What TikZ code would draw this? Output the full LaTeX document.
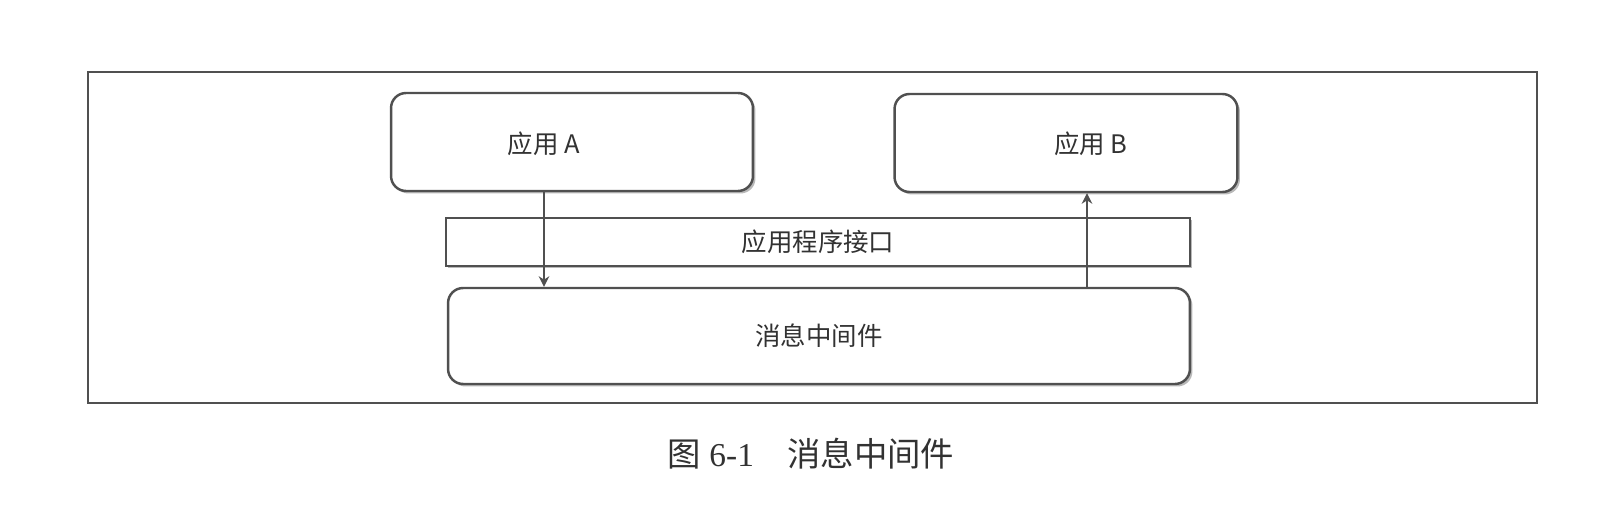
\documentclass[tikz,border=0pt]{standalone}
\usepackage{fontspec}
\setmainfont{Liberation Serif}
\newfontfamily\cjk{Noto Sans CJK SC}
\definecolor{mwline}{RGB}{80,80,80}
\definecolor{mwshadow}{RGB}{185,185,185}
\definecolor{mwtext}{RGB}{50,50,50}
\usetikzlibrary{arrows.meta,positioning,shadows}

\begin{document}
\begin{tikzpicture}[x=0.02cm, y=-0.02cm,
    appbox/.style={rectangle, rounded corners=0.3cm, draw=mwline, line width=1.4pt,
                   fill=white, drop shadow={shadow xshift=0.05cm, shadow yshift=-0.05cm,
                   fill=mwshadow, opacity=1}},
    apibox/.style={rectangle, draw=mwline, line width=1.4pt, fill=white,
                   minimum width=14.88cm, minimum height=0.96cm,
                   drop shadow={shadow xshift=0.04cm, shadow yshift=-0.04cm,
                   fill=mwshadow, opacity=1}},
    lbl/.style={font=\cjk\fontsize{14.5pt}{16pt}\selectfont, text=mwtext},
    arr/.style={-{Stealth[length=6pt, width=6pt]}, line width=1.4pt, mwline}
  ]
    \useasboundingbox (0,0) rectangle (1600,510);

    % Outer frame
    \draw[mwline, line width=0.8pt] (88,72) rectangle (1537,403);

    % Applications
    \node[appbox, minimum width=7.24cm, minimum height=1.96cm] (appa) at (572,142) {};
    \node[appbox, minimum width=6.86cm, minimum height=1.96cm] (appb) at (1066,143) {};
    \node[lbl] (ta) at (544,144) {应用 A};
    \node[lbl] (tb) at (1091,144) {应用 B};

    % Interface layer
    \node[apibox, lbl] (api) at (818,242) {应用程序接口};

    % Middleware
    \node[appbox, lbl, minimum width=14.84cm, minimum height=1.92cm] (mw) at (819,336) {消息中间件};

    % Message path
    \draw[arr] (appa.south -| ta) -- (mw.north -| ta);
    \draw[arr] (mw.north -| 1087,0) -- (appb.south -| 1087,0);

    % Caption
    \node[font=\fontsize{19pt}{21pt}\selectfont, text=mwtext] (cap) at (811,454)
      {{\cjk 图} 6-1\quad{\cjk 消息中间件}};
  \end{tikzpicture}
\end{document}
